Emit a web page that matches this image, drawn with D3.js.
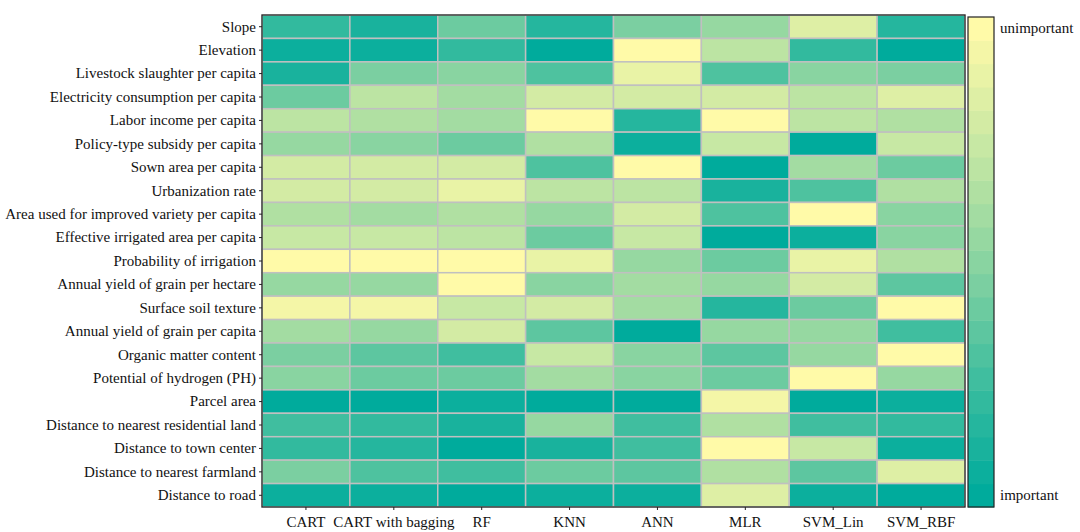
<!DOCTYPE html>
<html><head><meta charset="utf-8">
<script src="https://cdn.jsdelivr.net/npm/d3@7"></script>
<style>body{margin:0;background:#fff}svg{display:block}text{font-family:"Liberation Serif","Times New Roman",serif;fill:#111}</style>
</head><body>
<svg id="c" width="1080" height="532"></svg>
<script>
const features = ["Slope","Elevation","Livestock slaughter per capita","Electricity consumption per capita","Labor income per capita","Policy-type subsidy per capita","Sown area per capita","Urbanization rate","Area used for improved variety per capita","Effective irrigated area per capita","Probability of irrigation","Annual yield of grain per hectare","Surface soil texture","Annual yield of grain per capita","Organic matter content","Potential of hydrogen (PH)","Parcel area","Distance to nearest residential land","Distance to town center","Distance to nearest farmland","Distance to road"];
const models = ["CART","CART with bagging","RF","KNN","ANN","MLR","SVM_Lin","SVM_RBF"];
// importance rank (1 = most important, 21 = least important), one array per model
const CART     = [5,2,3,9,15,12,17,17,14,16,21,12,20,13,10,11,1,6,5,10,2];
const CARTbag  = [3,2,10,15,14,11,17,17,13,16,21,12,20,12,8,9,1,5,4,7,2];
const RF       = [9,5,11,13,13,9,17,19,14,15,21,21,16,17,6,9,2,3,1,6,1];
const KNN      = [4,1,7,17,21,14,7,15,12,9,19,11,17,8,16,13,1,12,3,9,2];
const ANN      = [10,21,19,17,4,2,21,15,17,16,12,13,13,1,11,11,1,6,6,8,2];
const MLR      = [12,15,7,17,21,16,1,3,7,1,9,12,4,12,8,9,20,14,21,14,18];
const SVM_Lin  = [18,5,11,15,15,1,13,7,21,2,19,17,9,12,12,21,1,6,16,8,2];
const SVM_RBF  = [4,1,10,18,14,16,9,14,11,11,14,8,21,6,21,12,2,5,2,18,1];
const series = [CART,CARTbag,RF,KNN,ANN,MLR,SVM_Lin,SVM_RBF];
const legendLabels = ["unimportant","important"];

const svg = d3.select("#c");
const m = {l:262, r:965, t:15, b:507};
const x = d3.scaleBand().domain(models).range([m.l,m.r]);
const y = d3.scaleBand().domain(features).range([m.t,m.b]);
const interp = d3.interpolateRgbBasis(["#00ab9c","#3dbd9f","#8cd4a1","#c8e8a3","#fffaa8"]);
const nSteps = 21;
const color = v => interp((Math.round(v)-1)/(nSteps-1));

const cells = [];
series.forEach((s,j)=>s.forEach((v,i)=>cells.push({f:features[i],m:models[j],v})));
svg.append("g").selectAll("rect").data(cells).join("rect")
  .attr("x",d=>x(d.m)).attr("y",d=>y(d.f))
  .attr("width",x.bandwidth()).attr("height",y.bandwidth())
  .attr("fill",d=>color(d.v)).attr("stroke","#c0c0c0").attr("stroke-width",1.5);
svg.append("rect").attr("x",m.l).attr("y",m.t).attr("width",m.r-m.l).attr("height",m.b-m.t)
  .attr("fill","none").attr("stroke","#222").attr("stroke-width",1.2);

const ya = svg.append("g").attr("transform",`translate(${m.l},0)`).call(d3.axisLeft(y).tickSize(3).tickPadding(3));
ya.select(".domain").remove();
ya.selectAll("text").style("font-size","15px").attr("fill","#111");
ya.selectAll("line").attr("stroke","#222");
const xa = svg.append("g").attr("transform",`translate(0,${m.b})`).call(d3.axisBottom(x).tickSize(3).tickPadding(6));
xa.select(".domain").remove();
xa.selectAll("text").style("font-size","15px").attr("fill","#111");
xa.selectAll("line").attr("stroke","#222");

// colorbar
const cb = {x:968, w:26, t:17, b:507};
const cy = d3.scaleLinear().domain([1,nSteps+1]).range([cb.b,cb.t]);
svg.append("g").selectAll("rect").data(d3.range(1,nSteps+1)).join("rect")
  .attr("x",cb.x).attr("width",cb.w)
  .attr("y",d=>cy(d+1)).attr("height",d=>cy(d)-cy(d+1)+0.5)
  .attr("fill",d=>color(d));
svg.append("rect").attr("x",cb.x).attr("y",cb.t).attr("width",cb.w).attr("height",cb.b-cb.t)
  .attr("fill","none").attr("stroke","#222").attr("stroke-width",1.2);
svg.append("text").attr("x",1000).attr("y",33).style("font-size","15px").text(legendLabels[0]);
svg.append("text").attr("x",1000).attr("y",500).style("font-size","15px").text(legendLabels[1]);
</script>
</body></html>
